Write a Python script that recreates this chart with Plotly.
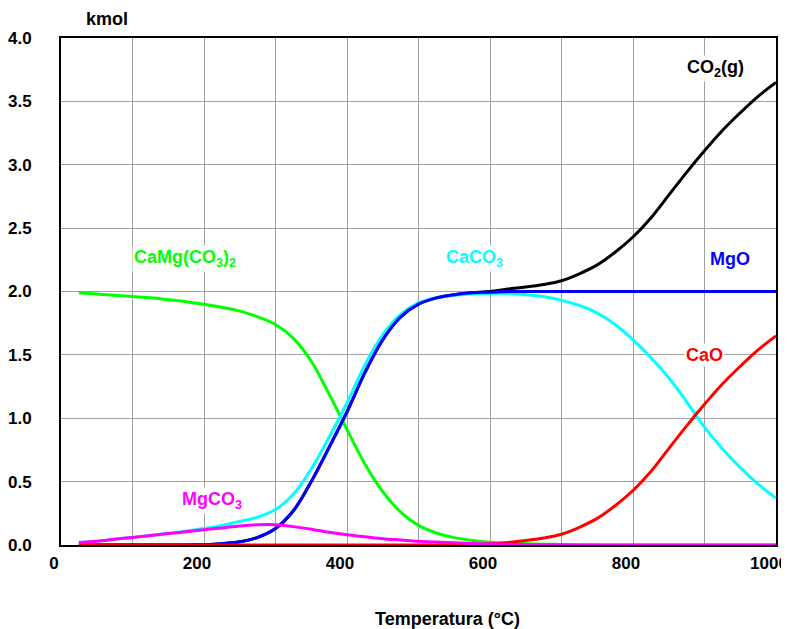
import plotly.graph_objects as go

# Temperature (°C)
T = [25, 50, 75, 100, 125, 150, 175, 200, 225, 250, 275, 300, 325, 350, 375, 400,
     425, 450, 475, 500, 525, 550, 575, 600, 625, 650, 675, 700, 725, 750, 775, 800,
     825, 850, 875, 900, 925, 950, 975, 1000]

# kmol of each species
camg_co3_2 = [1.99, 1.98, 1.97, 1.96, 1.95, 1.935, 1.92, 1.90, 1.875, 1.845, 1.80, 1.74, 1.63, 1.45, 1.19, 0.91,
              0.64, 0.42, 0.26, 0.155, 0.095, 0.058, 0.036, 0.022, 0.014, 0.009, 0.006, 0.004, 0.002, 0.001, 0.0, 0.0,
              0.0, 0.0, 0.0, 0.0, 0.0, 0.0, 0.0, 0.0]
caco3 = [0.02, 0.03, 0.045, 0.06, 0.075, 0.09, 0.11, 0.13, 0.155, 0.185, 0.22, 0.28, 0.40, 0.60, 0.85, 1.12,
         1.42, 1.66, 1.82, 1.91, 1.95, 1.97, 1.98, 1.985, 1.985, 1.975, 1.96, 1.93, 1.89, 1.83, 1.74, 1.62,
         1.48, 1.32, 1.13, 0.93, 0.76, 0.61, 0.48, 0.37]
mgo = [0.0, 0.0, 0.0, 0.0, 0.0, 0.0, 0.0, 0.003, 0.01, 0.025, 0.06, 0.13, 0.27, 0.50, 0.77, 1.05,
       1.36, 1.62, 1.80, 1.90, 1.95, 1.975, 1.99, 1.995, 2.0, 2.0, 2.0, 2.0, 2.0, 2.0, 2.0, 2.0,
       2.0, 2.0, 2.0, 2.0, 2.0, 2.0, 2.0, 2.0]
mgco3 = [0.02, 0.03, 0.045, 0.06, 0.075, 0.09, 0.105, 0.12, 0.135, 0.15, 0.16, 0.16, 0.145, 0.125, 0.10, 0.08,
         0.065, 0.05, 0.04, 0.03, 0.023, 0.017, 0.012, 0.008, 0.005, 0.003, 0.002, 0.001, 0.0, 0.0, 0.0, 0.0,
         0.0, 0.0, 0.0, 0.0, 0.0, 0.0, 0.0, 0.0]
cao = [0.0, 0.0, 0.0, 0.0, 0.0, 0.0, 0.0, 0.0, 0.0, 0.0, 0.0, 0.0, 0.0, 0.0, 0.0, 0.0,
       0.0, 0.0, 0.0, 0.0, 0.0, 0.0, 0.005, 0.01, 0.02, 0.035, 0.055, 0.085, 0.14, 0.21, 0.31, 0.43,
       0.58, 0.76, 0.94, 1.11, 1.27, 1.41, 1.54, 1.65]
co2 = [0.0, 0.0, 0.0, 0.0, 0.0, 0.0, 0.0, 0.003, 0.01, 0.025, 0.06, 0.13, 0.27, 0.50, 0.77, 1.05,
       1.36, 1.62, 1.80, 1.90, 1.95, 1.975, 1.99, 2.0, 2.02, 2.035, 2.055, 2.085, 2.14, 2.21, 2.31, 2.43,
       2.58, 2.76, 2.94, 3.11, 3.27, 3.41, 3.54, 3.65]

x_tickvals = [0, 100, 200, 300, 400, 500, 600, 700, 800, 900, 1000]
x_ticktext = ["0", "", "200", "", "400", "", "600", "", "800", "", "1000"]
y_tickvals = [0, 0.5, 1.0, 1.5, 2.0, 2.5, 3.0, 3.5, 4.0]
y_ticktext = ["0.0", "0.5", "1.0", "1.5", "2.0", "2.5", "3.0", "3.5", "4.0"]

series = [
    ("CO2(g)", co2, "#000000"),
    ("CaMg(CO3)2", camg_co3_2, "#00ff00"),
    ("CaCO3", caco3, "#00ffff"),
    ("MgO", mgo, "#0000ff"),
    ("CaO", cao, "#ff0000"),
    ("MgCO3", mgco3, "#ff00ff"),
]

labels = [
    ("CO<sub>2</sub>(g)", 915, 3.76, "#000000"),
    ("CaMg(CO<sub>3</sub>)<sub>2</sub>", 173, 2.26, "#00ff00"),
    ("CaCO<sub>3</sub>", 579, 2.26, "#00ffff"),
    ("MgO", 936, 2.26, "#0000ff"),
    ("CaO", 900, 1.50, "#ff0000"),
    ("MgCO<sub>3</sub>", 211, 0.355, "#ff00ff"),
]

FONT = "Liberation Sans, Arial, sans-serif"

fig = go.Figure()
for name, vals, col in series:
    fig.add_trace(go.Scatter(x=T, y=vals, mode="lines", name=name,
                             line=dict(color=col, width=3, shape="spline", smoothing=1.0),
                             cliponaxis=False, showlegend=False))

for txt, x, y, col in labels:
    fig.add_annotation(x=x, y=y, xref="x", yref="y", text=txt, showarrow=False,
                       xanchor="center", yanchor="middle",
                       font=dict(family=FONT, size=18, color=col, weight="bold"),
                       bgcolor="white", borderpad=1)

fig.add_annotation(x=0.064, y=1.0365, xref="paper", yref="paper", text="kmol",
                   xanchor="center", yanchor="middle", showarrow=False,
                   font=dict(family=FONT, size=18, color="black", weight="bold"))
fig.add_annotation(x=0.541, y=-0.145, xref="paper", yref="paper", text="Temperatura (°C)",
                   xanchor="center", yanchor="middle", showarrow=False,
                   font=dict(family=FONT, size=18, color="black", weight="bold"))

axis_common = dict(showgrid=True, gridcolor="#a0a0a0", gridwidth=1, zeroline=False,
                   showline=True, linecolor="black", linewidth=2, mirror=True, ticks="",
                   tickfont=dict(family=FONT, size=17, color="black", weight="bold"),
                   layer="below traces", automargin=False)

fig.update_xaxes(range=[0, 1000], tickmode="array", tickvals=x_tickvals, ticktext=x_ticktext,
                 ticklabelshift=-7, ticklabelstandoff=2, **axis_common)
fig.update_yaxes(range=[0, 4], tickmode="array", tickvals=y_tickvals, ticktext=y_ticktext,
                 ticklabelstandoff=24, **axis_common)

fig.update_layout(width=781, height=621, margin=dict(l=53, r=13, t=30, b=84),
                  plot_bgcolor="white", paper_bgcolor="white",
                  font=dict(family=FONT))

fig.write_html("out.html")
